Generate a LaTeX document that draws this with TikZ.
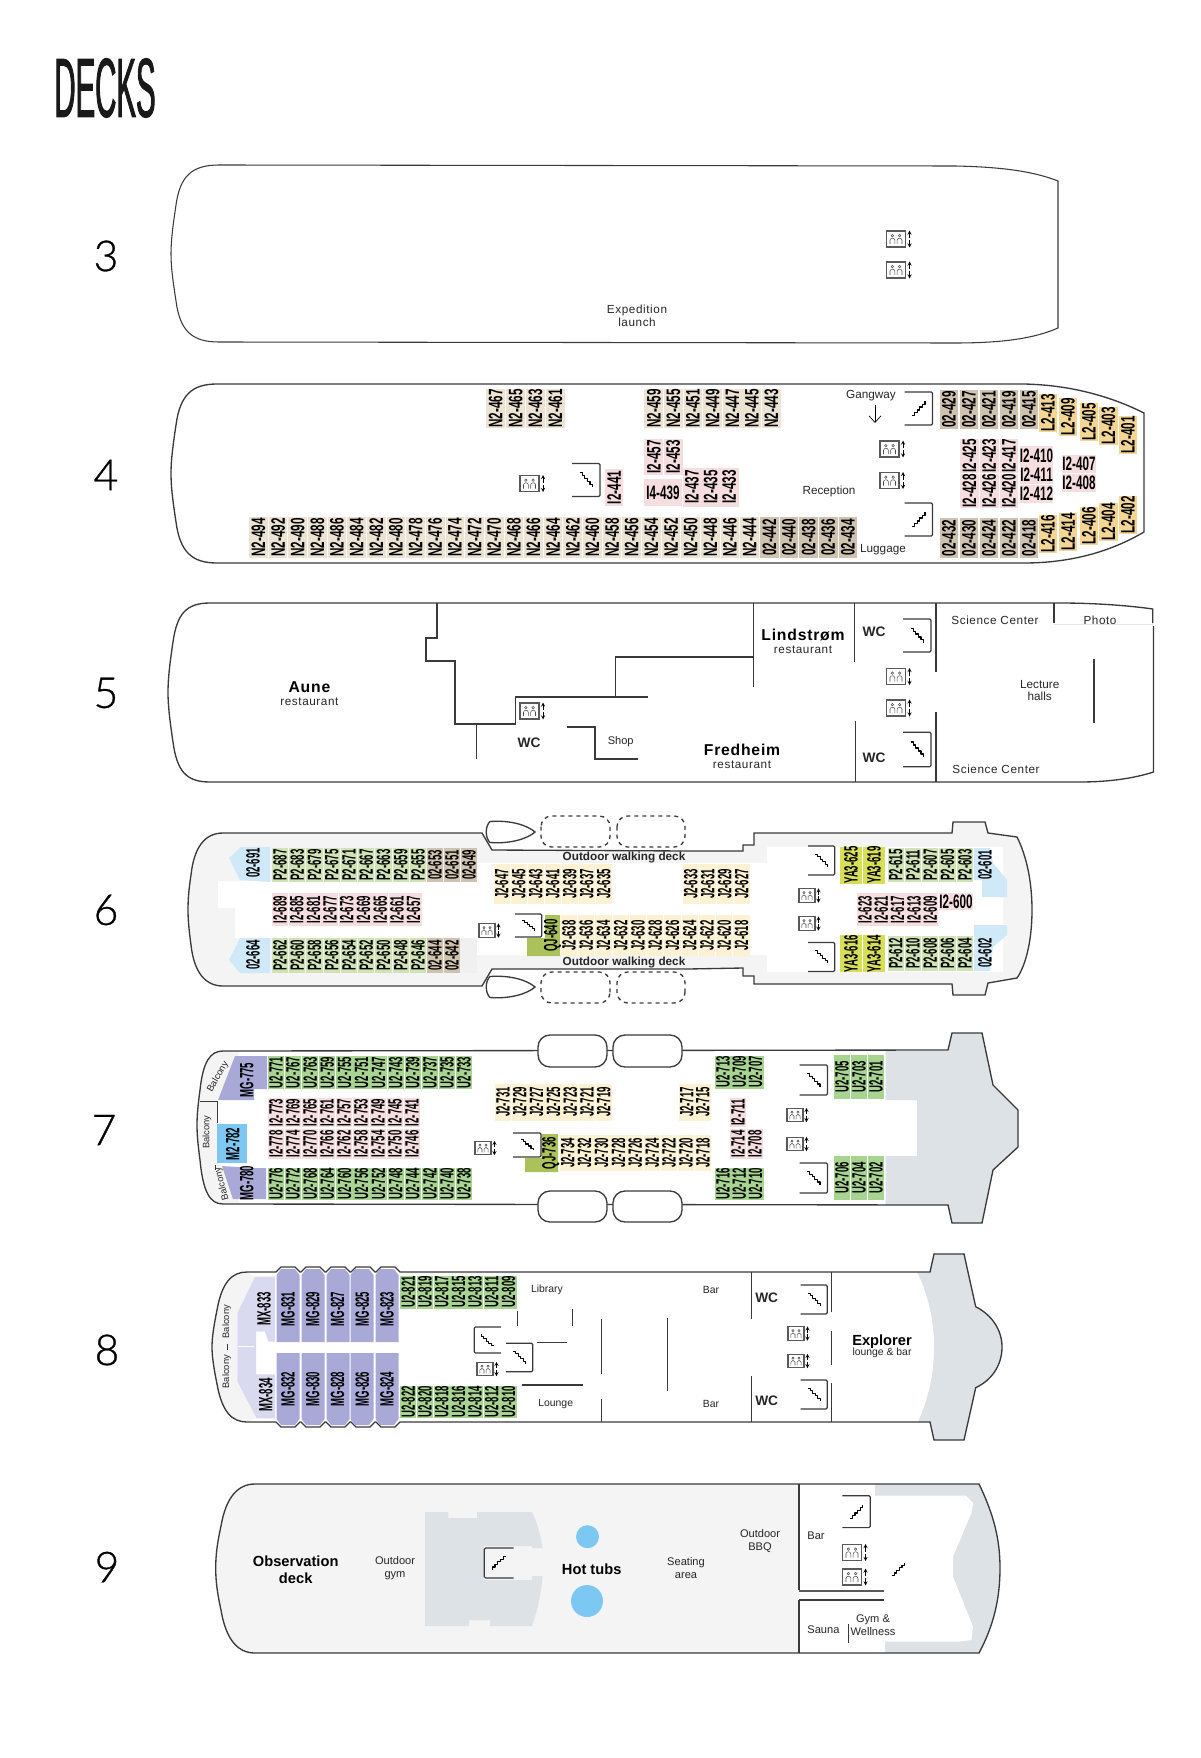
\documentclass[tikz,border=0pt]{standalone}
\usepackage{fontspec}
\usetikzlibrary{arrows,arrows.meta,positioning}
\setmainfont{Liberation Sans}
\newfontfamily\cabinfont[FakeStretch=0.5]{Liberation Sans}
\newfontfamily\widecabinfont[FakeStretch=0.6]{Liberation Sans}
\newfontfamily\titlefont[FakeStretch=0.35,FakeBold=1]{Liberation Sans}
\newfontfamily\spacedfont[LetterSpace=5]{Liberation Sans}
\newfontfamily\numfont{Lato}[UprightFont=* Light,FakeBold=0.7]
\definecolor{hullline}{HTML}{3A3A3C}
\definecolor{hullgrey}{HTML}{F4F4F4}
\definecolor{slate}{HTML}{DDE2E7}
\definecolor{beige}{HTML}{EDE3D3}
\definecolor{tan}{HTML}{CFC2AE}
\definecolor{rose}{HTML}{F6DDE0}
\definecolor{amber}{HTML}{F3D694}
\definecolor{sky}{HTML}{CFE9F9}
\definecolor{aqua}{HTML}{7CC8F2}
\definecolor{leaf}{HTML}{CFE3B5}
\definecolor{grass}{HTML}{A7D591}
\definecolor{cream}{HTML}{FDF1D3}
\definecolor{lime}{HTML}{D7DE58}
\definecolor{moss}{HTML}{ABC25A}
\definecolor{violet}{HTML}{A9A9D8}
\definecolor{lilac}{HTML}{D9DAF0}
\newcommand{\stairline}{\draw[black,line width=.9pt,line join=round] (-6.5,6.5) -- ++(2.6,0) -- ++(0,-2.6) -- ++(2.6,0) -- ++(0,-2.6) -- ++(2.6,0) -- ++(0,-2.6) -- ++(2.6,0) -- ++(0,-2.6) -- ++(2.6,0) -- ++(0,-2.6);}
\tikzset{
  hull/.style={draw=hullline,line width=1pt},
  wall/.style={draw=hullline,line width=1pt},
  thinwall/.style={draw=hullline,line width=.7pt},
  cabin/.style={rotate=90,inner sep=0pt,text=black,
    font=\cabinfont\bfseries\fontsize{14.4pt}{15pt}\selectfont,minimum height=12.2pt},
  cabinwide/.style={cabin,font=\widecabinfont\bfseries\fontsize{14.6pt}{15pt}\selectfont,minimum height=14pt},
  cabinflat/.style={inner sep=0pt,text=black,
    font=\widecabinfont\bfseries\fontsize{14.6pt}{15pt}\selectfont},
  lbl/.style={inner sep=0pt,align=center,text=black!85,font=\fontsize{8.8pt}{9.6pt}\selectfont},
  lblspaced/.style={lbl,font=\spacedfont\fontsize{8.8pt}{9.6pt}\selectfont},
  lblmid/.style={lbl,font=\fontsize{8.3pt}{9.6pt}\selectfont},
  lblsmall/.style={lbl,font=\fontsize{7.8pt}{9pt}\selectfont},
  lblbalcony/.style={lbl,font=\fontsize{7pt}{8pt}\selectfont},
  namelbl/.style={inner sep=0pt,align=center,text=black,font=\bfseries\fontsize{11pt}{13pt}\selectfont},
  restlbl/.style={namelbl,font=\spacedfont\bfseries\fontsize{11.8pt}{13pt}\selectfont},
  walklbl/.style={inner sep=0pt,text=black!85,font=\bfseries\fontsize{8.8pt}{10pt}\selectfont},
  wclbl/.style={walklbl,font=\bfseries\fontsize{10.3pt}{11pt}\selectfont},
  decknum/.style={inner sep=0pt,text=black,font=\numfont\fontsize{32pt}{32pt}\selectfont},
  stairzig/.pic={\stairline},
  stairsym/.pic={
    \draw[hullline,line width=.9pt,rounded corners=1pt] (-14,-15) -- (14,-15) -- (14,15) -- (-14,15);
    \stairline
  },
  liftsym/.pic={
    \draw[black!65,line width=.9pt] (-9.5,-8) rectangle (9.5,8);
    \foreach \p in {-3.6,3.6} {
      \draw[black!70,line width=.4pt] (\p,-3.4) circle (1.3);
      \draw[black!70,line width=.4pt] (\p-2.4,5) -- (\p-2.4,1.2) .. controls (\p-2,-1.4) and (\p+2,-1.4) .. (\p+2.4,1.2) -- (\p+2.4,5);
    }
    \draw[->,>=stealth,black,line width=.4pt] (13.5,-1) -- (13.5,-8.5);
    \draw[->,>=stealth,black,line width=.4pt] (13.5,1) -- (13.5,8.5);
  },
}
% style, first x, step, y, length, labels
\newcommand{\cabinrow}[6]{%
  \foreach \lab [count=\i from 0] in {#6} {
    \node[#1,minimum width=#5*0.75pt] (\lab) at ({#2+#3*\i},#4) {\lab};
  }}
\begin{document}
\begin{tikzpicture}[x=0.75pt,y=-0.75pt]
  \useasboundingbox (0,0) rectangle (1200,1758);
  \node[inner sep=0pt,text=black!90,font=\titlefont\fontsize{63pt}{63pt}\selectfont] (decks) at (105,88) {DECKS};

  %% deck 3
  \node[decknum] (num3) at (106,256) {3};
  \draw[hull,line width=.8pt] (219,165) -- (955,166) .. controls (1005,167) and (1035,172) .. (1058,181) -- (1058,328)
    .. controls (1035,338) and (1005,343) .. (955,343) -- (219,342)
    .. controls (192,342) and (180,331) .. (176,301) .. controls (173,281) and (171,268) .. (171,254)
    .. controls (171,240) and (173,225) .. (176,205) .. controls (180,176) and (192,165) .. (219,165) -- cycle;
  \pic at (896,239) {liftsym};
  \pic at (896,270) {liftsym};
  \node[lblspaced] (launch) at (637,315.5) {Expedition\\launch};

  %% deck 4
  \node[decknum] (num4) at (106,475) {4};
  \draw[hull] (217,384) -- (1024,384) .. controls (1070,385) and (1110,396) .. (1144,413) -- (1144,532)
    .. controls (1110,552) and (1070,563) .. (1024,563) -- (217,563)
    .. controls (192,563) and (180,552) .. (176,522) .. controls (173,502) and (171,488) .. (171,473)
    .. controls (171,460) and (173,445) .. (176,425) .. controls (180,395) and (192,384) .. (217,384) -- cycle;
  \cabinrow{cabinwide,fill=beige}{258.4}{19.65}{537.5}{41}{N2-494,N2-492,N2-490,N2-488,N2-486,N2-484,N2-482,N2-480,N2-478,N2-476,N2-474,N2-472,N2-470,N2-468,N2-466,N2-464,N2-462,N2-460,N2-458,N2-456,N2-454,N2-452,N2-450,N2-448,N2-446,N2-444}
  \cabinrow{cabinwide,fill=tan}{769.3}{19.65}{537.5}{41}{02-442,02-440,02-438,02-436,02-434}
  \cabinrow{cabinwide,fill=beige}{495.7}{19.9}{408.5}{37}{N2-467,N2-465,N2-463,N2-461}
  \cabinrow{cabinwide,fill=beige}{653.8}{19.6}{408.5}{37}{N2-459,N2-455,N2-451,N2-449,N2-447,N2-445,N2-443}
  \cabinrow{cabinwide,fill=rose}{653.8}{19.4}{457}{36}{I2-457,I2-453}
  \node[cabinflat,fill=rose,minimum width=29pt,minimum height=20pt] (I4-439) at (663,492.5) {I4-439};
  \cabinrow{cabinwide,fill=rose}{692}{18.6}{487}{39}{I2-437,I2-435,I2-433}
  \cabinrow{cabinwide,fill=rose}{614}{0}{487.5}{37}{I2-441}
  \cabinrow{cabinwide,fill=rose}{969.5}{19.7}{456}{33}{I2-425,I2-423,I2-417}
  \cabinrow{cabinwide,fill=rose}{969.5}{19.7}{491}{34}{I2-428,I2-426,I2-420}
  \foreach \lab/\ypos in {I2-410/455.7,I2-411/474.5,I2-412/494} {
    \node[cabinflat,fill=rose,minimum width=24.5pt,minimum height=14pt] (\lab) at (1036.5,\ypos) {\lab};
  }
  \foreach \lab/\ypos in {I2-407/464,I2-408/483} {
    \node[cabinflat,fill=rose,minimum width=24.5pt,minimum height=14pt] (\lab) at (1079,\ypos) {\lab};
  }
  \cabinrow{cabinwide,fill=tan}{949}{20}{409.5}{39}{02-429,02-427,02-421,02-419,02-415}
  \cabinrow{cabinwide,fill=tan}{949}{20}{538}{40}{02-432,02-430,02-424,02-422,02-418}
  \foreach \lab/\xpos/\ypos in {L2-413/1048/413,L2-409/1068/417,L2-405/1089/422,L2-403/1108.5/426,L2-401/1128/435,
    L2-416/1048/534,L2-414/1068/532,L2-406/1089/526,L2-404/1108.5/522,L2-402/1128/515} {
    \node[cabinwide,fill=amber,minimum width=27pt] (\lab) at (\xpos,\ypos) {\lab};
  }
  \node[lbl] (gangway) at (871,396) {Gangway};
  \coordinate (gangtop) at (875,405);
  \coordinate (gangend) at (875,423);
  \draw[-{Straight Barb[length=5pt,width=9pt]},black,line width=.5pt] (gangtop) -- (gangend);
  \node[lbl] (luggage) at (883,550) {Luggage};
  \node[lbl] (reception) at (829,491.7) {Reception};
  \pic[yscale=1.1] at (918.5,408.5) {stairsym};
  \pic[yscale=1.1] at (918.5,519.5) {stairsym};
  \pic[yscale=-1.1] at (586,480) {stairsym};
  \pic at (889.5,449) {liftsym};
  \pic at (889.5,480.5) {liftsym};
  \pic at (529.5,483.5) {liftsym};

  %% deck 5
  \node[decknum] (num5) at (106,693) {5};
  \draw[hull] (1152.7,623) -- (1152.7,609) .. controls (1125,605) and (1090,603) .. (1060,603) -- (210,603)
    .. controls (186,603) and (177,614) .. (173,642) .. controls (170,662) and (168,678) .. (168,692.5)
    .. controls (168,706) and (170,722) .. (173,742) .. controls (177,771) and (186,782) .. (210,782) -- (1080,782)
    .. controls (1110,782) and (1135,778) .. (1153.5,772) -- (1153.5,626);
  \draw[wall] (437,603) -- (437,638) -- (426,638) -- (426,661) -- (455,661) -- (455,724) -- (515.4,724) -- (515.4,697) -- (647.5,697);
  \draw[wall] (615.5,697) -- (615.5,657) -- (754,657);
  \draw[thinwall] (753,603) -- (753,687);
  \draw[thinwall] (476,724) -- (476,759);
  \draw[wall] (566.5,727) -- (595,727) -- (595,759) -- (638,759);
  \draw[thinwall] (854,603) -- (854,662);
  \draw[thinwall] (855,721) -- (855,782);
  \draw[wall] (936,603) -- (936,672);
  \draw[wall] (936,712) -- (936,782);
  \draw[wall] (1054,603) -- (1054,623);
  \draw[wall] (1094,659) -- (1094,723);
  \draw[black!10,line width=.6pt] (1054,624.5) -- (1153,624.5);
  \pic[yscale=-1.1] at (917,635.5) {stairsym};
  \pic[yscale=-1.15] at (917,749.5) {stairsym};
  \pic at (896,676.5) {liftsym};
  \pic at (896,708) {liftsym};
  \pic at (529.5,711) {liftsym};
  \node[restlbl] (aune) at (309.4,686.7) {Aune};
  \node[lblspaced] (auneb) at (309.4,701.7) {restaurant};
  \node[restlbl] (lindstrom) at (803,635) {Lindstrøm};
  \node[lblspaced] (lindstromb) at (803,649.7) {restaurant};
  \node[restlbl] (fredheim) at (742,750) {Fredheim};
  \node[lblspaced] (fredheimb) at (742,765) {restaurant};
  \node[wclbl] (wcA) at (874,631.7) {WC};
  \node[wclbl] (wcB) at (874,757.7) {WC};
  \node[wclbl] (wcC) at (529,743) {WC};
  \node[lblmid] (shop) at (620.7,741.7) {Shop};
  \node[lblspaced] (sciA) at (995,620) {Science Center};
  \node[lblspaced] (sciB) at (996,769) {Science Center};
  \node[lblspaced] (photo) at (1100,620) {Photo};
  \node[lbl] (lecture) at (1039.7,690.5) {Lecture\\halls};

  %% deck 6
  \node[decknum] (num6) at (106,910) {6};
  \draw[hull,fill=hullgrey] (223,833) -- (482,833) -- (492,850) -- (688,851) -- (743,851) -- (743,845) -- (754,845) -- (754,833) -- (952,833) -- (953,822) -- (985,822) -- (988,833) -- (1017,837)
    .. controls (1026,855) and (1032,880) .. (1032,910) .. controls (1032,940) and (1026,965) .. (1017,978)
    -- (988,983) -- (985,995) -- (953,995) -- (952,984) -- (754,984) -- (754,976) -- (743,976) -- (743,968) -- (688,969) -- (492,969) -- (482,986) -- (223,986)
    .. controls (205,986) and (194,972) .. (191,945) .. controls (189,930) and (188,920) .. (188,910)
    .. controls (188,898) and (189,888) .. (191,875) .. controls (194,847) and (205,833) .. (223,833) -- cycle;
  \fill[white] (218,881) -- (477,881) -- (477,863) -- (767,863) -- (767,847) -- (1003,847) -- (1003,972) -- (767,972) -- (767,955) -- (477,955) -- (477,938) -- (235,938) -- (235,908) -- (218,908) -- cycle;
  \fill[black!6] (457,938) rectangle (477,973);
  \fill[sky] (241,847) -- (270,847) -- (270,882) -- (240,880) -- (229,858) -- cycle;
  \fill[sky] (240,938) -- (270,938) -- (270,973) -- (240,973) -- (229,960) -- cycle;
  \fill[sky] (974,848) -- (990,848) -- (993,863) -- (1007,880) -- (1007,897) -- (982,897) -- (982,880) -- (974,880) -- cycle;
  \fill[sky] (974,925) -- (1007,925) -- (1007,935) -- (993,947) -- (990,971) -- (974,971) -- cycle;
  \node[cabin] (02-691) at (253,863) {02-691};
  \node[cabin] (02-664) at (253,955) {02-664};
  \node[cabin] (02-601) at (985,865) {02-601};
  \node[cabin] (02-602) at (985,953) {02-602};
  \cabinrow{cabin,fill=leaf}{280}{17.25}{865}{34}{P2-687,P2-683,P2-679,P2-675,P2-671,P2-667,P2-663,P2-659,P2-655}
  \cabinrow{cabin,fill=tan}{435}{17}{865}{34}{02-653,02-651,02-649}
  \cabinrow{cabin,fill=rose}{280}{16.7}{909.6}{33}{I2-689,I2-685,I2-681,I2-677,I2-673,I2-669,I2-665,I2-661,I2-657}
  \cabinrow{cabin,fill=leaf}{280}{17.25}{955.5}{35}{P2-662,P2-660,P2-658,P2-656,P2-654,P2-652,P2-650,P2-648,P2-646}
  \cabinrow{cabin,fill=tan}{435}{17}{955.5}{35}{02-644,02-642}
  \cabinrow{cabin,fill=cream}{501.7}{17}{884}{40}{J2-647,J2-645,J2-643,J2-641,J2-639,J2-637,J2-635}
  \cabinrow{cabin,fill=cream}{690.7}{17}{884}{40}{J2-633,J2-631,J2-629,J2-627}
  \fill[moss] (545,915) -- (560,915) -- (560,956) -- (527,956) -- (527,938) -- (545,938) -- cycle;
  \node[cabin] (QJ-640) at (552.5,935.5) {QJ-640};
  \cabinrow{cabin,fill=cream}{569}{17.25}{935.5}{41}{J2-638,J2-636,J2-634,J2-632,J2-630,J2-628,J2-626,J2-624,J2-622,J2-620,J2-618}
  \cabinrow{cabin,fill=lime,minimum height=16.5pt}{851}{23}{865}{34}{YA3-625,YA3-619}
  \cabinrow{cabin,fill=lime,minimum height=16.5pt}{851}{23}{953.5}{35}{YA3-616,YA3-614}
  \cabinrow{cabin,fill=leaf}{895.7}{17.3}{865}{34}{P2-615,P2-611,P2-607,P2-605,P2-603}
  \cabinrow{cabin,fill=leaf}{895.7}{17.3}{953.5}{35}{P2-612,P2-610,P2-608,P2-606,P2-604}
  \cabinrow{cabin,fill=rose}{865}{16.3}{909.6}{33}{I2-623,I2-621,I2-617,I2-613,I2-609}
  \node[cabinflat,fill=rose,minimum width=24.5pt,minimum height=13pt] (I2-600) at (956,901.7) {I2-600};
  \node[walklbl] (walkA) at (624,857.7) {Outdoor walking deck};
  \node[walklbl] (walkB) at (624,962.7) {Outdoor walking deck};
  \foreach \ysh in {0,155} {
    \draw[hull,fill=white,yshift=-\ysh*0.75pt] (490,821.5) .. controls (510,820) and (527,825) .. (535,832) .. controls (527,839) and (510,844) .. (490,842.5) .. controls (485,838) and (485,826) .. (490,821.5) -- cycle;
  }
  \foreach \xa/\xb in {541/610,617/685} {
    \draw[hull,dashed,rounded corners=8pt] (\xa,816) rectangle (\xb,847);
    \draw[hull,dashed,rounded corners=8pt] (\xb,1003) rectangle (\xa,972);
  }
  \pic[xscale=.95,yscale=-.77] at (528.5,925.5) {stairsym};
  \pic[xscale=.95,yscale=-.97] at (821.5,860.5) {stairsym};
  \pic[xscale=.95,yscale=-.97] at (821.5,957) {stairsym};
  \pic[scale=.85] at (487,930.5) {liftsym};
  \pic[scale=.85] at (807,895.5) {liftsym};
  \pic[scale=.85] at (807,923.5) {liftsym};

  %% deck 7
  \node[decknum] (num7) at (104,1130) {7};
  \fill[hullgrey] (240,1051) -- (223,1051) .. controls (210,1051) and (203,1062) .. (200,1090) .. controls (198,1105) and (197,1115) .. (197,1125)
    .. controls (197,1135) and (198,1145) .. (200,1160) .. controls (203,1192) and (210,1204) .. (223,1204) -- (240,1204) -- (222,1166) -- (217,1163) -- (217,1100) -- cycle;
  \fill[slate] (885.7,1051) -- (948,1051) -- (952,1033) -- (982,1033) -- (993,1085) -- (1018,1110) -- (1018,1147) -- (993,1170) -- (982,1223) -- (952,1223) -- (948,1205) -- (885.7,1205) -- (885.7,1156) -- (917,1156) -- (917,1100) -- (885.7,1100) -- cycle;
  \draw[hull] (223,1051) -- (948,1050) -- (952,1033) -- (982,1033) -- (993,1085) -- (1018,1110) -- (1018,1147) -- (993,1170) -- (982,1223) -- (952,1223) -- (948,1205) -- (223,1204)
    .. controls (210,1204) and (203,1192) .. (200,1160) .. controls (198,1145) and (197,1135) .. (197,1125)
    .. controls (197,1115) and (198,1105) .. (200,1090) .. controls (203,1062) and (210,1051) .. (223,1051) -- cycle;
  \foreach \xa/\xb in {538/607,613/682} {
    \draw[hull,fill=white,rounded corners=9pt] (\xa,1035) rectangle (\xb,1067);
    \draw[hull,fill=white,rounded corners=9pt] (\xa,1191) rectangle (\xb,1222);
  }
  \draw[thinwall] (200,1101) -- (217,1101) -- (217,1123);
  \draw[thinwall] (215,1165) -- (215,1170);
  \fill[violet] (235,1056) -- (267,1056) -- (267,1089) -- (254,1089) -- (254,1100) -- (218,1100) -- cycle;
  \fill[violet] (222,1166) -- (253,1168) -- (266,1168) -- (266,1199) -- (233,1199) -- cycle;
  \fill[aqua] (217,1124) rectangle (247,1163);
  \node[cabin] (MG-775) at (246.7,1080) {MG-775};
  \node[cabin] (MG-780) at (246.7,1183) {MG-780};
  \node[cabin] (M2-782) at (232.7,1144) {M2-782};
  \node[lblbalcony,rotate=60] (balconyA) at (218,1077) {Balcony};
  \node[lblbalcony,rotate=90] (balconyB) at (207,1132) {Balcony};
  \node[lblbalcony,rotate=105] (balconyC) at (222,1184) {Balcony};
  \cabinrow{cabin,fill=grass}{276}{17.1}{1072.5}{33}{U2-771,U2-767,U2-763,U2-759,U2-755,U2-751,U2-747,U2-743,U2-739,U2-737,U2-735,U2-733}
  \cabinrow{cabin,fill=rose}{276}{17}{1112.5}{29}{I2-773,I2-769,I2-765,I2-761,I2-757,I2-753,I2-749,I2-745,I2-741}
  \cabinrow{cabin,fill=rose}{276}{17}{1144}{30}{I2-778,I2-774,I2-770,I2-766,I2-762,I2-758,I2-754,I2-750,I2-746}
  \cabinrow{cabin,fill=grass}{276}{17.1}{1184}{32}{U2-776,U2-772,U2-768,U2-764,U2-760,U2-756,U2-752,U2-748,U2-744,U2-742,U2-740,U2-738}
  \cabinrow{cabin,fill=cream}{503}{16.8}{1102}{37}{J2-731,J2-729,J2-727,J2-725,J2-723,J2-721,J2-719}
  \cabinrow{cabin,fill=cream}{686.7}{16}{1102}{37}{J2-717,J2-715}
  \fill[moss] (541.7,1134) -- (558,1134) -- (558,1172) -- (525,1172) -- (525,1158) -- (541.7,1158) -- cycle;
  \node[cabin] (QJ-736) at (550.7,1153) {QJ-736};
  \cabinrow{cabin,fill=cream}{567.7}{16.9}{1153}{36}{J2-734,J2-732,J2-730,J2-728,J2-726,J2-724,J2-722,J2-720,J2-718}
  \cabinrow{cabin,fill=grass}{723}{16.3}{1072}{33}{U2-713,U2-709,U2-707}
  \cabinrow{cabin,fill=grass}{723}{16.3}{1184}{32}{U2-716,U2-712,U2-710}
  \cabinrow{cabin,fill=rose}{738}{0}{1112.5}{29}{I2-711}
  \cabinrow{cabin,fill=rose}{738}{17}{1144}{30}{I2-714,I2-708}
  \cabinrow{cabin,fill=grass}{842}{17}{1077}{44}{U2-705,U2-703,U2-701}
  \cabinrow{cabin,fill=grass}{842}{17}{1178}{44}{U2-706,U2-704,U2-702}
  \pic[yscale=-1] at (813.5,1080) {stairsym};
  \pic[yscale=-1] at (813.5,1178) {stairsym};
  \pic[yscale=-.8] at (527,1145) {stairsym};
  \pic[scale=.85] at (483,1148) {liftsym};
  \pic[scale=.85] at (795,1115) {liftsym};
  \pic[scale=.85] at (795,1144) {liftsym};

  %% deck 8
  \node[decknum] (num8) at (107,1350) {8};
  \fill[hullgrey] (247,1272) .. controls (232,1272) and (222,1282) .. (217,1310) .. controls (214,1325) and (212,1337) .. (212,1347)
    .. controls (212,1357) and (214,1369) .. (217,1384) .. controls (222,1412) and (232,1422) .. (247,1422) -- (257,1418) -- (237,1382) -- (237,1313) -- (255,1277) -- cycle;
  \fill[slate] (917,1272) -- (930,1272) -- (934,1254) -- (964,1254) -- (975.7,1306.7) .. controls (992,1315) and (1002,1330) .. (1002,1347) .. controls (1002,1365) and (992,1380) .. (975.7,1387.7) -- (964,1440) -- (934,1440) -- (930,1422) -- (918,1422) .. controls (930,1395) and (934,1370) .. (934,1347) .. controls (934,1325) and (930,1298) .. (917,1272) -- cycle;
  \draw[hull] (247,1272) -- (276,1272) -- ++(5,-5) -- ++(14,0) -- ++(5,5) -- ++(1,0) -- ++(5,-5) -- ++(14,0) -- ++(5,5) -- ++(1,0) -- ++(5,-5) -- ++(14,0) -- ++(5,5) -- ++(1,0) -- ++(5,-5) -- ++(14,0) -- ++(5,5) -- ++(1,0) -- ++(5,-5) -- ++(14,0) -- ++(5,5)
    -- (930,1272) -- (934,1254) -- (964,1254) -- (975.7,1306.7) .. controls (992,1315) and (1002,1330) .. (1002,1347) .. controls (1002,1365) and (992,1380) .. (975.7,1387.7) -- (964,1440) -- (934,1440) -- (930,1422)
    -- (400,1422) -- ++(-5,5) -- ++(-14,0) -- ++(-5,-5) -- ++(-1,0) -- ++(-5,5) -- ++(-14,0) -- ++(-5,-5) -- ++(-1,0) -- ++(-5,5) -- ++(-14,0) -- ++(-5,-5) -- ++(-1,0) -- ++(-5,5) -- ++(-14,0) -- ++(-5,-5) -- ++(-1,0) -- ++(-5,5) -- ++(-14,0) -- ++(-5,-5) -- (247,1422)
    .. controls (232,1422) and (222,1412) .. (217,1384) .. controls (214,1369) and (212,1357) .. (212,1347)
    .. controls (212,1337) and (214,1325) .. (217,1310) .. controls (222,1282) and (232,1272) .. (247,1272) -- cycle;
  \fill[lilac] (255,1276.7) -- (275,1276.7) -- (275,1341.7) -- (268.3,1341.7) -- (265,1331.7) -- (256,1331.7) -- (256,1374.3) -- (275,1374.3) -- (275,1418.3) -- (256.7,1418.3) -- (237.3,1381.7) -- (237.3,1313.3) -- cycle;
  \draw[white,line width=.8pt] (238,1346.7) -- (254,1346.7);
  \draw[thinwall] (227,1343.5) -- (227,1350);
  \foreach \xpos in {288,313,338,362,387} {
    \fill[violet] (\xpos-11.5,1342) -- (\xpos-11.5,1275) -- (\xpos-7,1269) -- (\xpos+7,1269) -- (\xpos+11.5,1275) -- (\xpos+11.5,1342) -- cycle;
    \fill[violet] (\xpos-11.5,1353) -- (\xpos-11.5,1419) -- (\xpos-7,1425) -- (\xpos+7,1425) -- (\xpos+11.5,1419) -- (\xpos+11.5,1353) -- cycle;
  }
  \node[cabin] (MX-833) at (264,1309) {MX-833};
  \node[cabin] (MX-834) at (265.7,1395) {MX-834};
  \cabinrow{cabin}{288}{24.75}{1309}{40}{MG-831,MG-829,MG-827,MG-825,MG-823}
  \cabinrow{cabin}{288}{24.75}{1389}{40}{MG-832,MG-830,MG-828,MG-826,MG-824}
  \node[lblbalcony,rotate=90] (balconyD) at (226.7,1321.7) {Balcony};
  \node[lblbalcony,rotate=90] (balconyE) at (226.7,1371.7) {Balcony};
  \cabinrow{cabin,fill=grass}{408.3}{16.7}{1292}{33}{U2-821,U2-819,U2-817,U2-815,U2-813,U2-811,U2-809}
  \cabinrow{cabin,fill=grass}{408.3}{16.7}{1402}{32}{U2-822,U2-820,U2-818,U2-816,U2-814,U2-812,U2-810}
  \draw[thinwall] (517.3,1311) -- (517.3,1326);
  \draw[thinwall] (572.7,1309) -- (572.7,1326);
  \draw[thinwall] (536.7,1342.7) -- (566.7,1342.7);
  \draw[wall] (521.7,1385) -- (583.3,1385);
  \draw[thinwall] (601.7,1319) -- (601.7,1374);
  \draw[thinwall] (601.7,1399) -- (601.7,1422);
  \draw[thinwall] (667.7,1318) -- (667.7,1391);
  \draw[thinwall] (751.7,1272) -- (751.7,1319);
  \draw[thinwall] (751.7,1376) -- (751.7,1422);
  \draw[wall] (831.7,1272) -- (831.7,1312);
  \draw[wall] (831.7,1331) -- (831.7,1365);
  \draw[wall] (831.7,1383) -- (831.7,1422);
  \pic[xscale=-.95,yscale=.87] at (487.5,1340) {stairsym};
  \pic[xscale=.95,yscale=-.95] at (519.5,1357.5) {stairsym};
  \pic[xscale=.95,yscale=-.97] at (814,1299.5) {stairsym};
  \pic[xscale=.95,yscale=-.97] at (814,1394.5) {stairsym};
  \pic[scale=.85] at (485,1369) {liftsym};
  \pic[scale=.85] at (796,1333.5) {liftsym};
  \pic[scale=.85] at (796,1361) {liftsym};
  \node[lblsmall] (library) at (547,1290) {Library};
  \node[lblsmall] (lounge) at (555.7,1404) {Lounge};
  \node[lblsmall] (barA) at (711,1290) {Bar};
  \node[lblsmall] (barB) at (711,1404) {Bar};
  \node[wclbl] (wcD) at (766.7,1298) {WC};
  \node[wclbl] (wcE) at (766.7,1400.7) {WC};
  \node[namelbl] (explorer) at (882,1341.7) {Explorer};
  \node[lblsmall] (explorerb) at (882,1353) {lounge \& bar};

  %% deck 9
  \node[decknum] (num9) at (107,1567) {9};
  \fill[hullgrey] (255,1484) -- (979,1484) .. controls (994,1515) and (1000,1540) .. (1000,1568) .. controls (1000,1598) and (994,1625) .. (979,1653) -- (255,1653)
    .. controls (238,1653) and (226,1640) .. (221,1610) .. controls (217,1592) and (215.7,1580) .. (215.7,1568)
    .. controls (215.7,1556) and (217,1544) .. (221,1526) .. controls (226,1497) and (238,1484) .. (255,1484) -- cycle;
  \fill[slate] (875,1484) -- (979,1484) .. controls (994,1515) and (1000,1540) .. (1000,1568) .. controls (1000,1598) and (994,1625) .. (979,1653) -- (875,1653) -- cycle;
  \fill[white] (799,1484) -- (875,1484) -- (875,1495.7) -- (966,1495.7) -- (973,1503) -- (971.4,1513) -- (953,1556.7) -- (953,1576.7) -- (973,1626.7) -- (971.4,1640) -- (958.4,1641.7) -- (885,1641.7) -- (885,1653) -- (799,1653) -- cycle;
  \fill[slate] (425,1512) -- (448.4,1512) -- (448.4,1518) -- (477,1518) -- (477,1512) -- (532,1512) .. controls (538,1525) and (541,1537) .. (542.6,1548) -- (532,1548) -- (532,1546) -- (484,1546) -- (484,1580) -- (532,1580) -- (532,1576) -- (542.6,1576) .. controls (541,1595) and (537,1612) .. (532,1626) -- (490,1626) -- (490,1620) -- (469,1620) -- (469,1626) -- (425,1626) -- cycle;
  \draw[hull] (255,1484) -- (979,1484) .. controls (994,1515) and (1000,1540) .. (1000,1568) .. controls (1000,1598) and (994,1625) .. (979,1653) -- (255,1653)
    .. controls (238,1653) and (226,1640) .. (221,1610) .. controls (217,1592) and (215.7,1580) .. (215.7,1568)
    .. controls (215.7,1556) and (217,1544) .. (221,1526) .. controls (226,1497) and (238,1484) .. (255,1484) -- cycle;
  \draw[wall] (799,1484) -- (799,1590);
  \draw[wall] (799,1600) -- (799,1653);
  \draw[draw=black!65,line width=1.4pt] (799,1590.7) -- (883.6,1590.7);
  \draw[wall] (799,1600) -- (883.6,1600);
  \draw[thinwall] (848.5,1624) -- (848.5,1643);
  \fill[aqua] (587.5,1536.7) circle (11.5);
  \fill[aqua] (587,1601) circle (16);
  \pic[xscale=-1.05,yscale=-1] at (499,1563) {stairsym};
  \pic[yscale=1.06] at (856.3,1511.7) {stairsym};
  \pic at (898,1569) {stairzig};
  \pic at (852,1552.5) {liftsym};
  \pic at (852,1577) {liftsym};
  \node[namelbl] (observation) at (295.7,1569.5) {Observation\\deck};
  \node[lblmid] (gym) at (395,1568.5) {Outdoor\\gym};
  \node[namelbl] (hottubs) at (591.7,1569) {Hot tubs};
  \node[lblmid] (seating) at (686,1568) {Seating\\area};
  \node[lblmid] (bbq) at (760,1540.7) {Outdoor\\BBQ};
  \node[lblmid] (barC) at (816,1535.7) {Bar};
  \node[lblmid] (sauna) at (823.4,1630) {Sauna};
  \node[lblmid] (wellness) at (873,1625) {Gym \&\\Wellness};
\end{tikzpicture}
\end{document}
